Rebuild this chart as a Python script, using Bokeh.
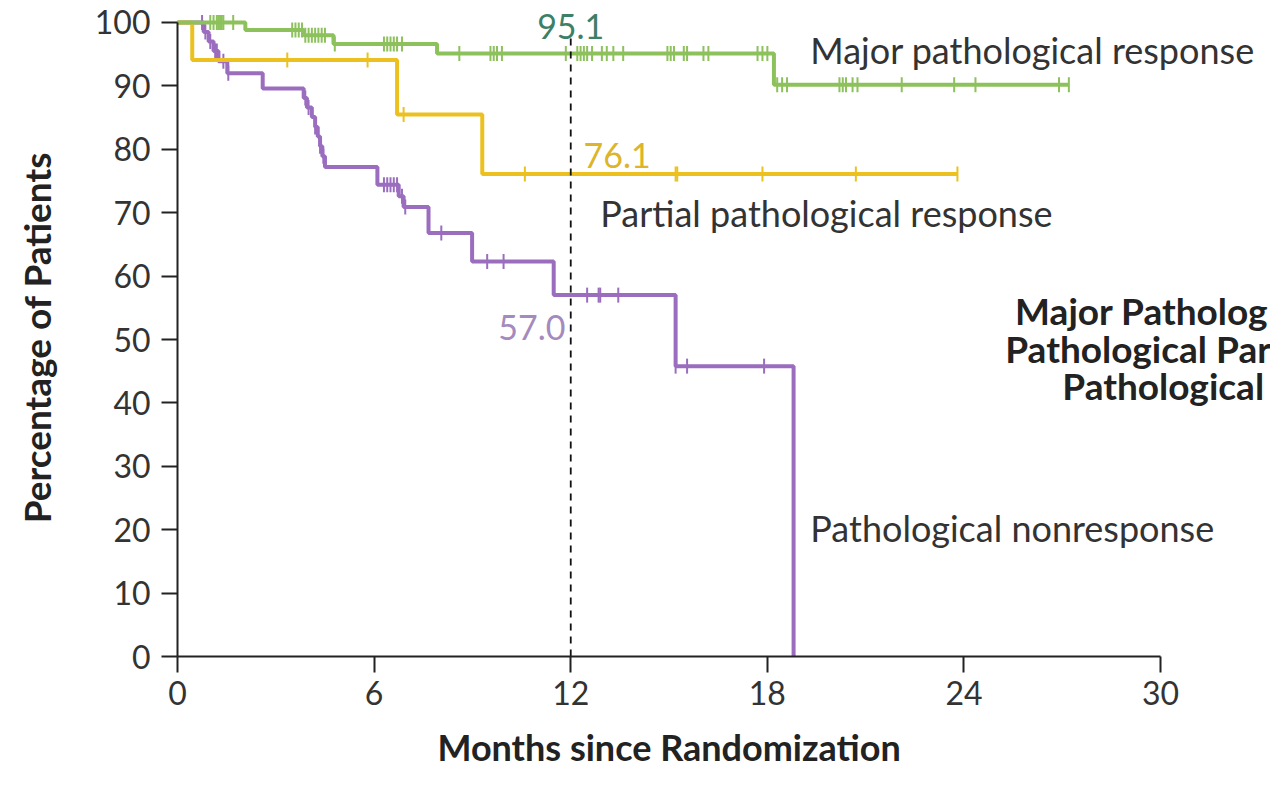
import numpy as np
from bokeh.plotting import figure
from bokeh.models import Label, Range1d, FixedTicker
from bokeh.embed import file_html
from bokeh.resources import INLINE

# ---------------- data ----------------
landmark = 12
x_ticks = [0, 6, 12, 18, 24, 30]
y_ticks = [0, 10, 20, 30, 40, 50, 60, 70, 80, 90, 100]

major_times = [0, 2.07, 3.85, 4.76, 7.92, 18.2]
major_surv = [100, 98.8, 98.0, 96.6, 95.1, 90.2]
major_end = 27.2
major_censor = [1.0, 1.1, 1.2, 1.25, 1.3, 1.35, 1.4, 1.7,
                3.5, 3.6, 3.7, 3.8,
                3.9, 4.0, 4.1, 4.2, 4.3, 4.4, 4.5,
                4.8, 6.3, 6.4, 6.5, 6.6, 6.7, 6.85,
                8.6, 9.55, 9.65, 9.75, 9.9, 11.85, 12.2, 12.3, 12.4, 12.5, 12.65,
                12.95, 13.1, 13.3, 13.6, 14.95, 15.05, 15.15, 15.45, 15.55,
                16.05, 16.2, 17.7, 17.85, 18.0,
                18.3, 18.45, 18.6, 20.2, 20.3, 20.4, 20.6, 20.75, 22.1, 23.7,
                24.35, 26.9, 27.2]

partial_times = [0, 0.45, 6.7, 9.3]
partial_surv = [100, 94.1, 85.5, 76.1]
partial_end = 23.8
partial_censor = [3.35, 5.8, 6.9, 10.6, 15.2, 15.25, 17.85, 20.7, 23.8]

non_times = [0, 0.8, 0.95, 1.1, 1.25, 1.52, 2.6, 3.85, 3.95, 4.1, 4.2, 4.28,
             4.35, 4.42, 4.5, 6.1, 6.75, 6.9, 7.66, 8.99, 11.48, 15.2, 18.8]
non_surv = [100, 98.5, 97.0, 95.5, 93.9, 92.0, 89.6, 88.1, 86.6, 85.1, 83.5, 82.0,
            80.5, 78.9, 77.2, 74.4, 72.6, 70.9, 66.8, 62.3, 57.0, 45.8, 0.0]
non_end = 18.8
non_censor = [0.75, 0.85, 1.0, 1.15, 1.2, 1.4, 1.55, 3.9, 4.0, 4.2, 4.35, 4.45,
              6.3, 6.4, 6.5, 6.6, 6.7, 6.85, 6.95, 8.05, 9.45, 9.95,
              12.5, 12.85, 12.9, 13.45, 15.2, 15.55, 17.9]

landmark_values = ["95.1", "76.1", "57.0"]

# ---------------- styling ----------------
GREEN = "#8dc15c"
YELLOW = "#ecc11f"
PURPLE = "#9b6dbf"
TXT = "#333333"
DARK = "#222222"
FONT = "Lato"

W, H = 1270, 777
# the frame covers the whole canvas; axes are pinned at x=0 / y=0
p = figure(width=W, height=H, output_backend="svg", toolbar_location=None,
           x_range=Range1d(-5.401, 33.353), y_range=Range1d(-19.085, 103.47),
           min_border_left=0, min_border_right=0, min_border_top=0,
           min_border_bottom=0)
p.outline_line_color = None
p.grid.visible = False
p.background_fill_color = "white"
p.border_fill_color = "white"


def surv_at(times, surv, t):
    idx = np.searchsorted(np.array(times), t, side="right") - 1
    return surv[max(idx, 0)]


def add_curve(times, surv, end, censor, color):
    xs = list(times) + [end]
    ys = list(surv) + [surv[-1]]
    p.step(xs, ys, mode="after", line_color=color, line_width=4)
    cy = [surv_at(times, surv, t) for t in censor]
    p.scatter(censor, cy, marker="dash", angle=np.pi / 2, size=15,
              line_color=color, line_width=2)


add_curve(non_times, non_surv, non_end, non_censor, PURPLE)
add_curve(partial_times, partial_surv, partial_end, partial_censor, YELLOW)
add_curve(major_times, major_surv, major_end, major_censor, GREEN)

p.segment(x0=[landmark], y0=[0], x1=[landmark], y1=[97.5], line_color="#111111",
          line_width=1.8, line_dash="7 6")

# axes (library axes, pinned at the origin)
for ax in (p.xaxis[0], p.yaxis[0]):
    ax.fixed_location = 0
    ax.axis_line_color = DARK
    ax.axis_line_width = 2
    ax.major_tick_line_color = DARK
    ax.major_tick_line_width = 2
    ax.major_tick_out = 16
    ax.major_tick_in = 0
    ax.minor_tick_line_color = None
    ax.major_label_text_font = FONT
    ax.major_label_text_font_size = "32px"
    ax.major_label_text_color = TXT

p.xaxis.ticker = FixedTicker(ticks=x_ticks)
p.yaxis.ticker = FixedTicker(ticks=y_ticks)
p.xaxis.bounds = (0, 30)
p.yaxis.bounds = (0, 100)
p.xaxis.major_label_standoff = 8
p.yaxis.major_label_standoff = 11

# axis titles
p.add_layout(Label(x=15.0, y=-14.3, text="Months since Randomization",
                   text_align="center", text_baseline="middle", text_color=DARK,
                   text_font=FONT, text_font_style="bold", text_font_size="36px"))
p.add_layout(Label(x=-4.3, y=50.3, text="Percentage of Patients", angle=np.pi / 2,
                   text_align="center", text_baseline="middle", text_color=DARK,
                   text_font=FONT, text_font_style="bold", text_font_size="37px"))

# landmark labels
p.add_layout(Label(x=landmark, y=99.3, text=landmark_values[0], text_align="center",
                   text_baseline="middle", text_color="#3c8068", text_font=FONT,
                   text_font_size="34px"))
p.add_layout(Label(x=12.39, y=79.0, text=landmark_values[1], text_align="left",
                   text_baseline="middle", text_color="#dcb52c", text_font=FONT,
                   text_font_size="34px"))
p.add_layout(Label(x=11.84, y=51.9, text=landmark_values[2], text_align="right",
                   text_baseline="middle", text_color="#a48abd", text_font=FONT,
                   text_font_size="34px"))

# curve names
for x, y, t in [(19.31, 95.6, "Major pathological response"),
                (12.9, 69.9, "Partial pathological response"),
                (19.31, 20.3, "Pathological nonresponse")]:
    p.add_layout(Label(x=x, y=y, text=t, text_align="left", text_baseline="middle",
                       text_color=TXT, text_font=FONT, text_font_size="36px"))

# bold comparison block (cut off at the right edge in the reference)
for x, y, t in [(25.56, 54.6, "Major Patholog"),
                (25.26, 48.6, "Pathological Par"),
                (27.0, 42.7, "Pathological")]:
    p.add_layout(Label(x=x, y=y, text=t, text_align="left", text_baseline="middle",
                       text_color=DARK, text_font=FONT, text_font_style="bold",
                       text_font_size="37px"))

open("out.html", "w").write(file_html(p, INLINE))
